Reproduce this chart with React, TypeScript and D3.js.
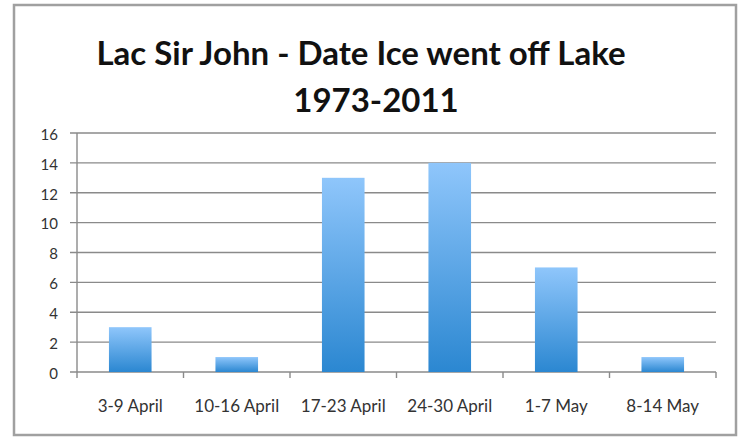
import React, { useEffect, useRef } from 'react';
import * as d3 from 'd3';

const categories = ['3-9 April', '10-16 April', '17-23 April', '24-30 April', '1-7 May', '8-14 May'];
const counts = [3, 1, 13, 14, 7, 1];
const yTicks = [0, 2, 4, 6, 8, 10, 12, 14, 16];
const titleLines = ['Lac Sir John - Date Ice went off Lake', '1973-2011'];

export default function App() {
    const width = 743;
    const height = 440;
    const marginLeft = 77;
    const marginRight = 27;
    const marginTop = 133;
    const marginBottom = 68;

    const ref = useRef(null);

    useEffect(() => {
        const svg = d3.select(ref.current);
        svg.selectAll('*').remove();

        const font = 'Lato, "Open Sans", sans-serif';

        const defs = svg.append('defs');
        const grad = defs.append('linearGradient')
            .attr('id', 'barGrad')
            .attr('x1', 0).attr('y1', 0).attr('x2', 0).attr('y2', 1);
        grad.append('stop').attr('offset', '0%').attr('stop-color', '#8fc6fb');
        grad.append('stop').attr('offset', '100%').attr('stop-color', '#2b87d1');

        // outer frame
        svg.append('rect')
            .attr('x', 14).attr('y', 5)
            .attr('width', 722).attr('height', 430)
            .attr('fill', '#fff')
            .attr('stroke', '#a0a0a0')
            .attr('stroke-width', 2.5);

        const x = d3.scaleBand()
            .domain(categories)
            .range([marginLeft, width - marginRight])
            .paddingInner(0.6)
            .paddingOuter(0.3);
        const xTick = d3.scaleLinear()
            .domain([0, categories.length])
            .range([marginLeft, width - marginRight]);
        const y = d3.scaleLinear()
            .domain([0, 16])
            .range([height - marginBottom, marginTop]);

        // gridlines
        svg.append('g')
            .selectAll('line')
            .data(yTicks)
            .enter()
            .append('line')
              .attr('x1', marginLeft - 7)
              .attr('x2', width - marginRight)
              .attr('y1', d => y(d))
              .attr('y2', d => y(d))
              .attr('stroke', '#8a8a8a')
              .attr('stroke-width', 1.4);

        // y axis line
        svg.append('line')
            .attr('x1', marginLeft).attr('x2', marginLeft)
            .attr('y1', y(16)).attr('y2', y(0) + 6)
            .attr('stroke', '#8a8a8a')
            .attr('stroke-width', 1.4);

        // category ticks
        svg.append('g')
            .selectAll('line')
            .data(d3.range(1, categories.length + 1))
            .enter()
            .append('line')
              .attr('x1', d => xTick(d))
              .attr('x2', d => xTick(d))
              .attr('y1', y(0))
              .attr('y2', y(0) + 6)
              .attr('stroke', '#8a8a8a')
              .attr('stroke-width', 1.4);

        // bars
        svg.append('g')
            .selectAll('rect')
            .data(counts)
            .enter()
            .append('rect')
              .attr('x', (_d, i) => x(categories[i]) as number)
              .attr('y', d => y(d))
              .attr('width', x.bandwidth())
              .attr('height', d => y(0) - y(d))
              .attr('fill', 'url(#barGrad)');

        // y labels
        svg.append('g')
            .selectAll('text')
            .data(yTicks)
            .enter()
            .append('text')
              .attr('x', marginLeft - 19)
              .attr('y', d => y(d) + 1.5)
              .attr('dy', '0.35em')
              .attr('text-anchor', 'end')
              .attr('font-family', font)
              .attr('font-size', 15)
              .attr('fill', '#333')
              .text(d => d);

        // x labels
        svg.append('g')
            .selectAll('text')
            .data(categories)
            .enter()
            .append('text')
              .attr('x', d => (x(d) as number) + x.bandwidth() / 2)
              .attr('y', y(0) + 40)
              .attr('text-anchor', 'middle')
              .attr('font-family', font)
              .attr('font-size', 17)
              .attr('fill', '#333')
              .text(d => d);

        // title
        svg.append('text')
            .attr('x', 361)
            .attr('y', 65)
            .attr('text-anchor', 'middle')
            .attr('font-family', font)
            .attr('font-weight', 'bold')
            .attr('font-size', 33)
            .attr('fill', '#111')
            .text(titleLines[0]);
        svg.append('text')
            .attr('x', 376)
            .attr('y', 112)
            .attr('text-anchor', 'middle')
            .attr('font-family', font)
            .attr('font-weight', 'bold')
            .attr('font-size', 33)
            .attr('fill', '#111')
            .text(titleLines[1]);
    }, []);

    return (
        <svg ref={ref} width={width} height={height} viewBox={`0 0 ${width} ${height}`}
            style={{ position: 'absolute', left: 0, top: 0 }}>
        </svg>
    );
}
